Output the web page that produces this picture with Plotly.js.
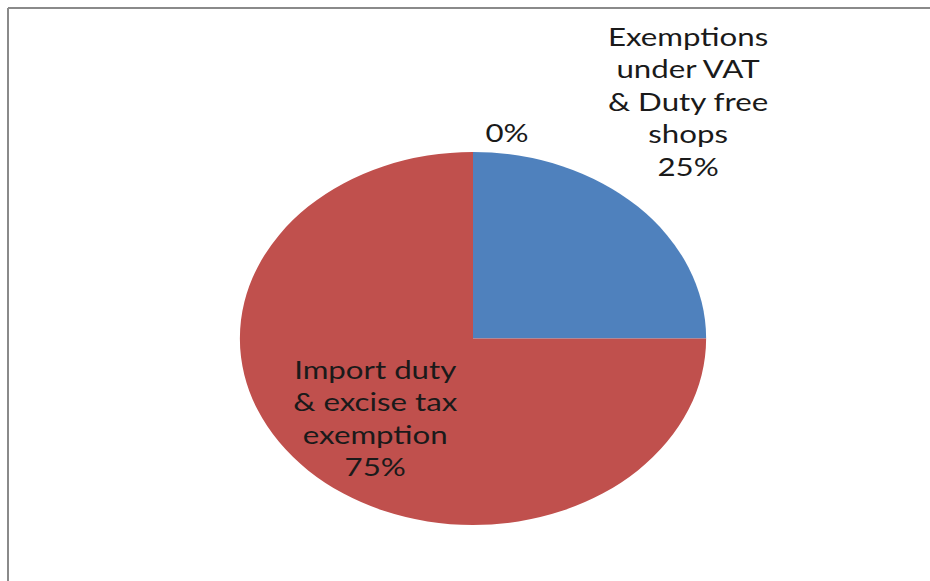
<!DOCTYPE html>
<html>
<head>
<meta charset="utf-8">
<script src="https://cdn.plot.ly/plotly-3.0.1.min.js"></script>
<style>html,body{margin:0;padding:0;background:#fff;}#chart{width:930px;height:581px;}</style>
</head>
<body>
<div id="chart"></div>
<script>
// Data
const categories = [
  "Exemptions<br>under VAT<br>& Duty free<br>shops",
  "Import duty<br>& excise tax<br>exemption",
  ""
];
const values = [25, 75, 0];
const sliceColors = ["#4F81BD", "#C0504D", "#9BBB59"];
const labelTemplates = ["%{label}<br>%{percent:.0%}", "%{label}<br>%{percent:.0%}", "%{percent:.0%}"];
const labelPositions = ["outside", "inside", "outside"];
// label nudges in screen pixels (style only), by point index
const labelNudges = [[-80, -66], [-15, 13], [65, -5]];

const W = 930, H = 581, STRETCH = 1.25;
const trace = {
  type: "pie",
  labels: categories,
  values: values,
  sort: false,
  direction: "clockwise",
  rotation: 0,
  marker: {colors: sliceColors, line: {width: 0}},
  texttemplate: labelTemplates,
  textposition: labelPositions,
  insidetextorientation: "horizontal",
  textfont: {family: "Lato, 'Open Sans', sans-serif", size: 25, color: "#1a1a1a"},
  hoverinfo: "none",
  showlegend: false,
  automargin: false,
  domain: {x: [286.5 / W, 659.5 / W], y: [56 / H, 429 / H]}
};
const layout = {
  width: W, height: H,
  margin: {l: 0, r: 0, t: 0, b: 0},
  paper_bgcolor: "#ffffff",
  showlegend: false,
  shapes: [
    {type: "line", xref: "paper", yref: "paper", x0: 8 / W, x1: 8 / W, y0: 0, y1: 1 - 8 / H, line: {color: "#8a8a8a", width: 2}},
    {type: "line", xref: "paper", yref: "paper", x0: 8 / W, x1: 1, y0: 1 - 8 / H, y1: 1 - 8 / H, line: {color: "#8a8a8a", width: 2}}
  ]
};
Plotly.newPlot("chart", [trace], layout, {displayModeBar: false, staticPlot: true}).then(function (gd) {
  const layer = gd.querySelector(".pielayer");
  const surfaces = layer.querySelectorAll("path.surface");
  let minX = Infinity, maxX = -Infinity;
  surfaces.forEach(function (p) {
    const b = p.getBBox();
    if (b.width > 0) { minX = Math.min(minX, b.x); maxX = Math.max(maxX, b.x + b.width); }
  });
  const cx = (minX + maxX) / 2;
  layer.setAttribute("transform", "translate(" + cx + ",0) scale(" + STRETCH + ",1) translate(" + (-cx) + ",0)");
  layer.querySelectorAll("g.slice").forEach(function (s, k) {
    const d = s.__data__;
    const idx = (d && typeof d.i === "number") ? d.i : k;
    const nudge = labelNudges[idx];
    const t = s.querySelector("g.slicetext");
    if (t && nudge) t.setAttribute("transform", "translate(" + (nudge[0] / STRETCH) + "," + nudge[1] + ")");
  });
});
</script>
</body>
</html>
